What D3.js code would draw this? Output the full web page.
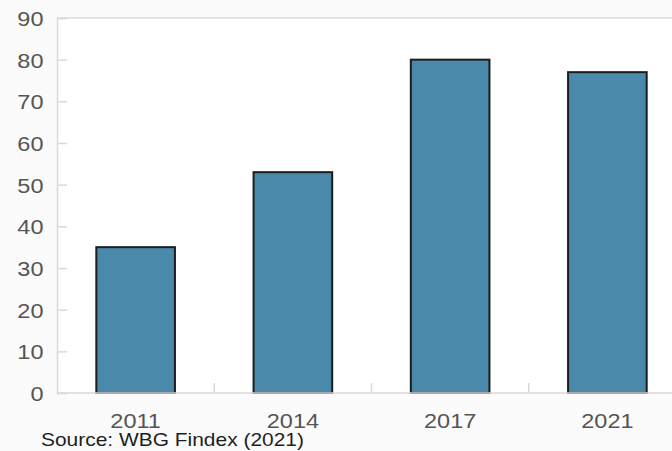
<!DOCTYPE html>
<html>
<head>
<meta charset="utf-8">
<script src="https://cdn.jsdelivr.net/npm/d3@7"></script>
<style>
  body { margin: 0; background: #fbfbfb; }
  svg { display: block; font-family: "Liberation Sans", Arial, sans-serif; }
</style>
</head>
<body>
<div id="chartDiv"></div>
<script>
// data
let years = ["2011", "2014", "2017", "2021"];
let values = [35, 53, 80, 77];
let yTicks = [0, 10, 20, 30, 40, 50, 60, 70, 80, 90];
let sourceText = "Source: WBG Findex (2021)";

let svgWidth = 672, svgHeight = 451;
let plotLeft = 57, plotTop = 18, plotBottom = 393;
let stretch = 1.12; // original text is a little wider than plain Arial

let svg = d3.select("#chartDiv")
  .append("svg")
  .attr("width", svgWidth)
  .attr("height", svgHeight);

// band runs past the right edge (chart is cropped in the original)
let xScale = d3.scaleBand()
  .domain(years)
  .range([plotLeft, 686])
  .paddingInner(0.5)
  .paddingOuter(0.25);

let yScale = d3.scaleLinear()
  .domain([0, 90])
  .range([plotBottom, plotTop]);

// white plot area
svg.append("rect")
  .attr("x", plotLeft).attr("y", plotTop)
  .attr("width", svgWidth - plotLeft).attr("height", plotBottom - plotTop)
  .attr("fill", "#ffffff");

let axisColor = "#d9d9d9";

// top border
svg.append("line")
  .attr("x1", plotLeft).attr("x2", svgWidth)
  .attr("y1", yScale(90)).attr("y2", yScale(90))
  .attr("stroke", axisColor).attr("stroke-width", 1.5);

// y axis
let yAxis = d3.axisRight(yScale)
  .tickValues(yTicks)
  .tickSize(10)
  .tickFormat("");
let yG = svg.append("g")
  .attr("transform", "translate(" + plotLeft + ",0)")
  .call(yAxis);
yG.select(".domain").attr("stroke", axisColor).attr("stroke-width", 1.5);
yG.selectAll(".tick line").attr("stroke", axisColor).attr("stroke-width", 1.5);

svg.selectAll(".ylab")
  .data(yTicks)
  .enter().append("text")
  .attr("class", "ylab")
  .attr("transform", d => "translate(43.5," + (yScale(d) + 8) + ") scale(" + stretch + ",1)")
  .attr("text-anchor", "end")
  .attr("font-size", 21)
  .attr("fill", "#555555")
  .text(d => d);

// bars
svg.selectAll(".bar")
  .data(values)
  .enter().append("rect")
  .attr("class", "bar")
  .attr("x", (d, i) => xScale(years[i]))
  .attr("width", xScale.bandwidth())
  .attr("y", d => yScale(d))
  .attr("height", d => plotBottom - yScale(d))
  .attr("fill", "#4a89aa")
  .attr("stroke", "#1c1c1c")
  .attr("stroke-width", 2);

// x axis line
svg.append("line")
  .attr("x1", plotLeft).attr("x2", svgWidth)
  .attr("y1", plotBottom).attr("y2", plotBottom)
  .attr("stroke", axisColor).attr("stroke-width", 1.5);

// category boundary ticks, pointing up
let step = xScale.step();
svg.selectAll(".xtick")
  .data(years.slice(1))
  .enter().append("line")
  .attr("class", "xtick")
  .attr("x1", d => xScale(d) - step * 0.25)
  .attr("x2", d => xScale(d) - step * 0.25)
  .attr("y1", plotBottom).attr("y2", plotBottom - 10)
  .attr("stroke", axisColor).attr("stroke-width", 1.5);

svg.selectAll(".xlab")
  .data(years)
  .enter().append("text")
  .attr("class", "xlab")
  .attr("transform", d => "translate(" + (xScale(d) + xScale.bandwidth() / 2) + ",427.5) scale(" + stretch + ",1)")
  .attr("text-anchor", "middle")
  .attr("font-size", 21)
  .attr("fill", "#555555")
  .text(d => d);

svg.append("text")
  .attr("transform", "translate(41,445.5) scale(" + stretch + ",1)")
  .attr("font-size", 18.7)
  .attr("fill", "#1e1e1e")
  .text(sourceText);
</script>
</body>
</html>
